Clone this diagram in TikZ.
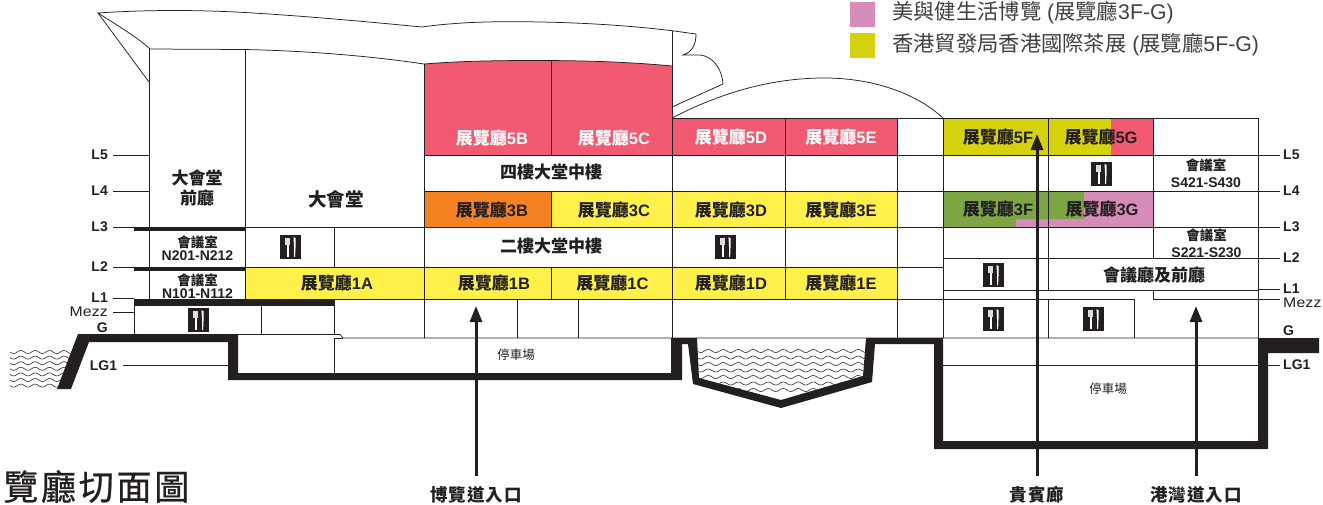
\documentclass[tikz,border=0pt]{standalone}
\usepackage{fontspec}
\setmainfont{Liberation Sans}
\newfontfamily\cjk{Noto Sans CJK TC}
\newfontfamily\cjkwide[LetterSpace=6]{Noto Sans CJK TC}
\newfontfamily\cjktitle[LetterSpace=8,FakeBold=0.7]{Noto Sans CJK TC}
\newfontfamily\mezzfont[FakeStretch=1.13,LetterSpace=1]{Liberation Sans}
\usetikzlibrary{arrows.meta}
\definecolor{ink}{HTML}{231F20}
\definecolor{legendink}{HTML}{414042}
\definecolor{hallred}{HTML}{F15A71}
\definecolor{hallyellow}{HTML}{FFF14A}
\definecolor{hallorange}{HTML}{F58220}
\definecolor{hallolive}{HTML}{D5D10C}
\definecolor{hallgreen}{HTML}{7DA544}
\definecolor{halllilac}{HTML}{D58CB8}
\newcommand\hallname[1]{{\fontsize{17}{19}\selectfont\cjk\bfseries 展覽廳}{\fontsize{16.5}{19}\selectfont\bfseries #1}}
\tikzset{
  grid/.style={draw=ink,line width=0.75pt},
  levelline/.style={draw=ink,line width=0.8pt},
  wave/.style={draw=ink,line width=0.55pt},
  hall/.style={inner sep=0pt,text=ink},
  hallwhite/.style={inner sep=0pt,text=white},
  heading/.style={inner sep=0pt,text=ink,font=\fontsize{17}{19}\selectfont\cjk\bfseries},
  room/.style={inner sep=0pt,text=ink,align=center},
  parking/.style={inner sep=0pt,text=ink,font=\fontsize{12.5}{14}\selectfont\cjk},
  level/.style={inner sep=0pt,text=ink,font=\fontsize{14}{16}\selectfont\bfseries},
  mezz/.style={inner sep=0pt,text=ink,font=\fontsize{14}{16}\selectfont\mezzfont},
  entrylabel/.style={inner sep=0pt,text=ink,font=\fontsize{17.5}{19}\selectfont\cjkwide\bfseries},
  entryline/.style={draw=ink,line width=3pt,-{Triangle[length=16pt,width=12pt]}},
  legendtext/.style={inner sep=0pt,anchor=west,text=legendink},
  cutlery/.pic={
    \fill[ink](-10.5,-12)rectangle(10.5,12);
    \fill[white!85!ink](-5.5,-9.5)rectangle(-0.5,-2);
    \fill[white](-3.8,-2)rectangle(-1.9,10);
    \fill[white](3,-10)--(5,-9)--(5,1)--(4.6,10)--(3.6,10)--(3.6,1)--cycle;
  }
}
\newcommand\roomtext[3]{{\fontsize{13.5}{13}\selectfont\cjk\bfseries #1}\\[#3]{\fontsize{14}{13}\selectfont\bfseries #2}}
\begin{document}
\begin{tikzpicture}[x=1pt,y=-1pt]
\path[use as bounding box,fill=white](0,0)rectangle(1323,504);
\fill[halllilac](850,2)rectangle(875,27);
\fill[hallolive](850,33)rectangle(875,58);
\node[legendtext,font=\fontsize{21.3}{23}\selectfont] (legendlilac) at (892,13) {{\cjk 美與健生活博覽} ({\cjk 展覽廳}3F-G)};
\node[legendtext,font=\fontsize{21.3}{23}\selectfont] (legendolive) at (892,45) {{\cjk 香港貿發局香港國際茶展} ({\cjk 展覽廳}5F-G)};
% coloured halls
\fill[hallred](424,64)..controls(460,61)and(500,60.5)..(535,60.5)..controls(585,60.5)and(630,62)..(672,66)--(672,155)--(424,155)--cycle;
\fill[hallred](672,118)rectangle(897,155);
\fill[hallorange](424,191)rectangle(551,227);
\fill[hallyellow](551,191)rectangle(897,227);
\fill[hallyellow](245,267)rectangle(897,299);
\fill[hallolive](943,118)rectangle(1111,155);
\fill[hallred](1111,118)rectangle(1153,155);
\fill[halllilac](943,191)rectangle(1153,227);
\fill[hallgreen](943,191)rectangle(1084,219);
\fill[hallgreen](943,219)rectangle(1016,227);
% roof
\draw[grid](149,48)..controls(138,38)and(120,27)..(98,13)..controls(150,9.5)and(200,10)..(245,12.5)..controls(305,16)and(370,22)..(422,27)..controls(450,23)and(480,21.7)..(510,21.7)..controls(570,21.7)and(625,25)..(672,30.7)--(696,34)..controls(696,45)and(692,52)..(683,55)--(700,55)..controls(712,56)and(722,68)..(723,84)--(672,107);
\draw[grid](98,13)--(149,82);
\draw[grid](149,49)--(245,49.5)..controls(310,51)and(370,56)..(424,64)..controls(460,61)and(500,60.5)..(535,60.5)..controls(585,60.5)and(630,62)..(672,66);
\draw[grid](672,118)..controls(730,88)and(780,78)..(825,78)..controls(870,78)and(915,92)..(943,118);
% walls of the halls
\draw[grid](149,48)--(149,299);
\draw[grid](245,49.5)--(245,299);
\draw[grid](424,64)--(424,338);
\draw[grid](551,60.5)--(551,155);
\draw[grid](551,191)--(551,227);
\draw[grid](551,267)--(551,299);
\draw[grid](672,31)--(672,338);
\draw[grid](785,118)--(785,299);
\draw[grid](897.5,118)--(897.5,338);
\draw[grid](334,227)--(334,267);
\draw[grid](334,299)--(334,334.5);
\draw[grid](334,338)--(334,373);
\draw[grid](134.5,305)--(134.5,334.5);
\draw[grid](261.5,305)--(261.5,334.5);
\draw[grid](517,299)--(517,338);
\draw[grid](578,299)--(578,338);
\draw[grid](672,118)--(1258.5,118)--(1258.5,338);
\draw[grid](424,155)--(1258.5,155);
\draw[grid](424,191)--(1258.5,191);
\draw[grid](245,227)--(1258.5,227);
\draw[grid](245,267)--(943,267);
\draw[grid](245,299)--(1134,299)--(1134,338);
\draw[grid](134.5,334.5)--(340,334.5)--(343,338)--(1258.5,338);
\draw[grid](334,338)--(343,338);
\draw[grid](943,118)--(943,338);
\draw[grid](1048,118)--(1048,290);
\draw[grid](1048,299)--(1048,338);
\draw[grid](1153,118)--(1153,258);
\draw[grid](943,258)--(1258.5,258);
\draw[grid](943,290)--(1258.5,290);
\draw[grid](943,365)--(1258.5,365);
% water
\begin{scope}
\clip(8,345)--(76,345)--(60,389)--(8,389)--cycle;
\foreach \i in {0,...,6}
  \draw[wave]plot[domain=0:70,samples=71,smooth](10+\x,{352+5.6*\i+1.5*sin(\x*25)});
\end{scope}
\begin{scope}
\clip(697,338)--(699,378)--(781,400)--(863,376)--(866,338)--cycle;
\foreach \i in {0,...,6}
  \draw[wave]plot[domain=0:170,samples=171,smooth](697+\x,{351+6.5*\i+1.5*sin(\x*24)});
\end{scope}
% ground and floor slabs
\fill[ink](78,334)--(238,334)--(238,373)--(671,373)--(671,338)--(697,338)--(699,378)--(781,400)--(863,376)--(866,338)--(943,338)--(943,441)--(1258,441)--(1258,338)--(1319,338)--(1319,353)--(1268,353)--(1268,449)--(934,449)--(934,344)--(875,344)--(872,382)--(781,408)--(693,384)--(688,344)--(682,344)--(682,380)--(228,380)--(228,342)--(89,342)--(71,389)--(57,389)--cycle;
\fill[ink](134,226.7)rectangle(245,230.7);
\fill[ink](134,267)rectangle(245,271);
\fill[ink](134,298.7)rectangle(334,305.7);
% halls
\node[hallwhite] (hall5b) at (492,138) {\hallname{5B}};
\node[hallwhite] (hall5c) at (614,138) {\hallname{5C}};
\node[hallwhite] (hall5d) at (731,137) {\hallname{5D}};
\node[hallwhite] (hall5e) at (841,137) {\hallname{5E}};
\node[hall] (hall5f) at (998,137) {\hallname{5F}};
\node[hall] (hall5g) at (1101,137) {\hallname{5G}};
\node[hall] (hall3b) at (492,209.5) {\hallname{3B}};
\node[hall] (hall3c) at (614,209.5) {\hallname{3C}};
\node[hall] (hall3d) at (731,209.5) {\hallname{3D}};
\node[hall] (hall3e) at (841,209.5) {\hallname{3E}};
\node[hall] (hall3f) at (998,209) {\hallname{3F}};
\node[hall] (hall3g) at (1102,209) {\hallname{3G}};
\node[hall] (hall1a) at (337,283) {\hallname{1A}};
\node[hall] (hall1b) at (494,283) {\hallname{1B}};
\node[hall] (hall1c) at (612.5,283) {\hallname{1C}};
\node[hall] (hall1d) at (731,283) {\hallname{1D}};
\node[hall] (hall1e) at (841,283) {\hallname{1E}};
\node[heading] (foyernorth) at (197,190) {\begin{tabular}{@{}c@{}}大會堂\\[-1pt]前廳\end{tabular}};
\node[heading,font=\fontsize{18.5}{20}\selectfont\cjk\bfseries] (theatre) at (336,199) {大會堂};
\node[heading] (lobbyfour) at (551,172) {四樓大堂中樓};
\node[heading] (lobbytwo) at (551,246) {二樓大堂中樓};
\node[heading] (confhall) at (1154,275) {會議廳及前廳};
\node[room] (roomntwo) at (197.5,248) {\roomtext{會議室}{N201-N212}{1pt}};
\node[room] (roomnone) at (197.5,286) {\roomtext{會議室}{N101-N112}{1pt}};
\node[room] (roomsfour) at (1206,173.5) {\roomtext{會議室}{S421-S430}{5pt}};
\node[room] (roomstwo) at (1206.5,243.5) {\roomtext{會議室}{S221-S230}{5pt}};
\node[parking] (parkwest) at (516,355) {停車場};
\node[parking] (parkeast) at (1108,389) {停車場};
\pic at (290.5,247) {cutlery};
\pic at (198.5,320) {cutlery};
\pic at (725.5,247) {cutlery};
\pic at (1101.5,174) {cutlery};
\pic at (993.5,275) {cutlery};
\pic at (993.5,319) {cutlery};
\pic at (1093.5,319) {cutlery};
% levels
\coordinate (westwall) at (149,100);
\coordinate (westslab) at (134,100);
\coordinate (westpit) at (228,100);
\coordinate (eastwall) at (1258,100);
\node[level,anchor=east] (leftlfive) at (108,155) {L5};
\node[level,anchor=east] (leftlfour) at (108,191) {L4};
\node[level,anchor=east] (leftlthree) at (108,227) {L3};
\node[level,anchor=east] (leftltwo) at (108,267) {L2};
\node[level,anchor=east] (leftlone) at (108,298) {L1};
\node[mezz,anchor=east] (leftmezz) at (108,312) {Mezz};
\node[level,anchor=east] (leftg) at (108,328) {G};
\node[level,anchor=center] (leftlgone) at (103.5,365.5) {LG1};
\draw[levelline,shorten <=5pt](leftlfive.east)--(leftlfive.east-|westwall);
\draw[levelline,shorten <=5pt](leftlfour.east)--(leftlfour.east-|westwall);
\draw[levelline,shorten <=5pt](leftlthree.east)--(leftlthree.east-|westslab);
\draw[levelline,shorten <=5pt](leftltwo.east)--(leftltwo.east-|westslab);
\draw[levelline,shorten <=5pt](leftlone.east)--(leftlone.east-|westslab);
\draw[levelline,shorten <=5pt](leftmezz.east)--(leftmezz.east-|westslab);
\draw[levelline,shorten <=6pt](leftlgone.east)--(leftlgone.east-|westpit);
\node[level,anchor=west] (rightlfive) at (1283,155) {L5};
\node[level,anchor=west] (rightlfour) at (1283,191) {L4};
\node[level,anchor=west] (rightlthree) at (1283,227) {L3};
\node[level,anchor=west] (rightltwo) at (1283,258) {L2};
\node[level,anchor=west] (rightlone) at (1283,289) {L1};
\node[mezz,anchor=west] (rightmezz) at (1283,303) {Mezz};
\node[level,anchor=west] (rightg) at (1283,331) {G};
\node[level,anchor=west] (rightlgone) at (1283,365) {LG1};
\coordinate (mezzwest) at (1153,290);
\coordinate (mezzcorner) at (1153,299);
\coordinate (mezzend) at (1280,299);
\draw[levelline,shorten <=3pt](rightlfive.west)--(rightlfive.west-|eastwall);
\draw[levelline,shorten <=3pt](rightlfour.west)--(rightlfour.west-|eastwall);
\draw[levelline,shorten <=3pt](rightlthree.west)--(rightlthree.west-|eastwall);
\draw[levelline,shorten <=3pt](rightltwo.west)--(rightltwo.west-|eastwall);
\draw[levelline,shorten <=3pt](rightlone.west)--(rightlone.west-|eastwall);
\draw[levelline,shorten <=3pt](rightlgone.west)--(rightlgone.west-|eastwall);
\draw[levelline](mezzwest)--(mezzcorner)--(mezzend);
% entrances
\node[entrylabel] (expodrive) at (476,495) {博覽道入口};
\node[entrylabel] (viphall) at (1037,495) {貴賓廊};
\node[entrylabel] (harbourroad) at (1196,495) {港灣道入口};
\coordinate (expotip) at (476,306);
\coordinate (viptip) at (1037,134);
\coordinate (harbourtip) at (1196,306);
\draw[entryline,shorten <=10pt](expodrive.north)--(expotip);
\draw[entryline,shorten <=10pt](viphall.north)--(viptip);
\draw[entryline,shorten <=10pt](harbourroad.north)--(harbourtip);
\node[inner sep=0pt,anchor=west,text=ink,font=\fontsize{35}{37}\selectfont\cjktitle] (sectiontitle) at (3,486.5) {覽廳切面圖};
\end{tikzpicture}
\end{document}
